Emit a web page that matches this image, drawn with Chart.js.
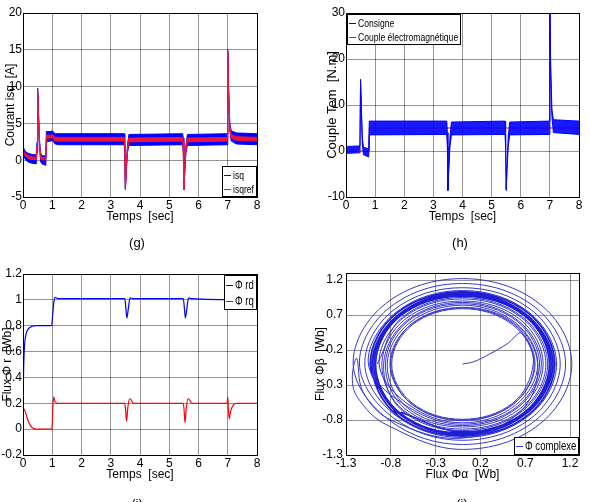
<!DOCTYPE html>
<html>
<head>
<meta charset="utf-8">
<title>Commande vectorielle - résultats de simulation</title>
<script src="https://cdn.jsdelivr.net/npm/chart.js@4.4.1/dist/chart.umd.min.js"></script>
<style>
  html, body { margin: 0; padding: 0; background: #fff; }
  body { position: relative; width: 590px; height: 502px; overflow: hidden; }
  .panel { position: absolute; width: 295px; height: 251px; }
  .caption { position: absolute; width: 40px; margin-left: -20px; text-align: center;
             font: 13px 'Liberation Sans', Arial, sans-serif; line-height: 15px; color: #000; }
</style>
</head>
<body>
<div class="panel" style="left:0;top:0"><canvas id="chart-g"></canvas></div>
<div class="panel" style="left:295px;top:0"><canvas id="chart-h"></canvas></div>
<div class="panel" style="left:0;top:251px"><canvas id="chart-i"></canvas></div>
<div class="panel" style="left:295px;top:251px"><canvas id="chart-j"></canvas></div>
<div class="caption" style="left:137px;top:235px">(g)</div>
<div class="caption" style="left:460px;top:235px">(h)</div>
<div class="caption" style="left:137px;top:496px">(i)</div>
<div class="caption" style="left:462px;top:496px">(j)</div>
<script>
const FONT = "'Liberation Sans', Arial, sans-serif";
const BLUE = '#0000ff';
const RED = '#ff0000';

// tick labels
const timeTicks = [0, 1, 2, 3, 4, 5, 6, 7, 8];
const isqTicks = [-5, 0, 5, 10, 15, 20];
const coupleTicks = [-10, 0, 10, 20, 30];
const fluxTicks = [-0.2, 0, 0.2, 0.4, 0.6, 0.8, 1, 1.2];
const complexTicks = [-1.3, -0.8, -0.3, 0.2, 0.7, 1.2];

// (g) courant isq : enveloppe du bruit (haut / bas)
const timeG = [0, 0.05, 0.1, 0.2, 0.3, 0.45, 0.48, 0.5, 0.53, 0.56, 0.6, 0.65, 0.78, 0.8, 0.95, 1.0, 1.1, 1.2,
               3.46, 3.48, 3.5, 3.53, 3.57, 3.62, 5.46, 5.48, 5.5, 5.53, 5.57, 5.62, 6.98, 7.0, 7.03, 7.07, 7.12, 7.3, 8];
const isqHigh = [1.9, 1.4, 1.1, 0.9, 0.8, 0.7, 2.5, 9.8, 6.5, 3.0, 1.0, 0.6, 0.6, 3.9, 3.9, 4.0, 3.6, 3.6,
                 3.6, 3.0, -3.8, -1.0, 2.0, 3.5, 3.6, 3.0, -3.8, -1.0, 2.0, 3.5, 3.6, 15.0, 9.5, 5.0, 4.0, 3.7, 3.6];
const isqLow = [0.9, 0.3, 0.0, -0.3, -0.4, -0.5, 1.0, 9.4, 5.8, 2.2, -0.2, -0.5, -0.7, 2.5, 2.6, 2.7, 2.2, 2.1,
                2.1, 1.0, -4.0, -1.6, 1.0, 2.0, 2.1, 1.0, -4.0, -1.6, 1.0, 2.0, 2.1, 14.6, 8.8, 4.0, 2.6, 2.2, 2.1];
const isqrefHigh = [1.5, 1.0, 0.8, 0.6, 0.45, 0.4, 2.0, 9.6, 6.2, 2.7, 0.6, 0.35, 0.3, 3.4, 3.4, 3.5, 3.1, 3.1,
                    3.1, 2.5, -3.8, -1.2, 1.8, 3.0, 3.1, 2.5, -3.8, -1.2, 1.8, 3.0, 3.1, 15.0, 9.2, 4.7, 3.5, 3.2, 3.1];
const isqrefLow = [1.2, 0.7, 0.45, 0.2, 0.1, 0.05, 1.5, 9.3, 6.0, 2.5, 0.3, 0.05, 0.0, 3.0, 3.0, 3.1, 2.6, 2.6,
                   2.6, 1.8, -4.0, -1.5, 1.3, 2.5, 2.6, 1.8, -4.0, -1.5, 1.3, 2.5, 2.6, 14.6, 9.0, 4.3, 3.0, 2.7, 2.6];

// (h) couple
const timeH = [0, 0.05, 0.45, 0.48, 0.5, 0.53, 0.56, 0.6, 0.78, 0.8, 3.46, 3.48, 3.5, 3.53, 3.57, 3.62,
               5.46, 5.48, 5.5, 5.53, 5.57, 5.62, 6.98, 7.0, 7.03, 7.07, 7.12, 8];
const consigneHigh = [0.7, 1.0, 1.1, 2.5, 15.6, 9.0, 3.0, 0.8, 0.5, 6.5, 6.5, 4.0, -8.2, -3.0, 3.0, 6.3,
                      6.5, 4.0, -8.2, -3.0, 3.0, 6.3, 6.5, 31, 18, 9, 6.8, 6.5];
const consigneLow = [-0.2, -0.5, -0.4, 0.5, 15.0, 8.2, 1.5, -0.8, -1.3, 3.5, 3.6, 1.0, -8.6, -4.0, 1.0, 3.5,
                     3.6, 1.0, -8.6, -4.0, 1.0, 3.5, 3.6, 30, 16, 7.5, 4.0, 3.6];
const timeCouple = [0, 0.8, 0.8, 8];
const coupleEm = [0, 0, 5, 5];

// (i) flux rotorique
const timeRd = [0, 0.02, 0.05, 0.1, 0.15, 0.2, 0.3, 0.45, 0.98, 1.02, 1.06, 1.1, 1.2,
                3.48, 3.52, 3.55, 3.6, 3.66, 3.75, 5.48, 5.52, 5.55, 5.6, 5.66, 5.75, 8];
const fluxRd = [0.15, 0.45, 0.64, 0.73, 0.765, 0.78, 0.795, 0.8, 0.8, 0.9, 0.99, 1.02, 1.01,
                1.01, 0.93, 0.86, 0.93, 1.015, 1.01, 1.01, 0.93, 0.86, 0.93, 1.015, 1.01, 1.0];
const timeRq = [0, 0.05, 0.1, 0.15, 0.2, 0.3, 0.45, 0.99, 1.02, 1.05, 1.1, 1.2,
                3.48, 3.51, 3.54, 3.58, 3.64, 3.68, 3.78, 5.48, 5.51, 5.54, 5.58, 5.64, 5.68, 5.78,
                6.98, 7.0, 7.02, 7.05, 7.1, 7.2, 7.3, 8];
const fluxRq = [0.16, 0.15, 0.12, 0.08, 0.05, 0.015, 0, 0, 0.17, 0.25, 0.21, 0.2,
                0.2, 0.14, 0.06, 0.16, 0.235, 0.23, 0.2, 0.2, 0.14, 0.05, 0.16, 0.235, 0.23, 0.2,
                0.2, 0.25, 0.16, 0.08, 0.14, 0.19, 0.2, 0.2];

// (j) flux complexe [alpha, beta]
const startPath = [[0, 0], [0.12, 0.03], [0.3, 0.14], [0.5, 0.29], [0.66, 0.44]];
const innerLoops = [
  [0.79, 0], [0.56, -0.56], [0, -0.79], [-0.56, -0.56], [-0.79, 0], [-0.56, 0.56], [0, 0.79], [0.56, 0.56],
  [0.8, 0], [0.57, -0.57], [0, -0.8], [-0.57, -0.57], [-0.8, 0], [-0.57, 0.57], [0, 0.8], [0.57, 0.57],
  [0.81, 0], [0.57, -0.57], [0, -0.81], [-0.57, -0.57], [-0.81, 0], [-0.57, 0.57], [0, 0.81], [0.58, 0.58]
];
const cuspPath = [[0.84, 0], [0.66, -0.66], [0, -1.06], [-0.8, -0.8], [-1.11, -0.4], [-1.18, 0.08],
                  [-1.23, -0.2], [-1.17, -0.48]];
const outerLoops = [
  [-0.86, -0.86], [0, -1.22], [0.86, -0.86], [1.22, 0], [0.86, 0.86], [0, 1.22], [-0.86, 0.86], [-1.22, 0],
  [-0.81, -0.81], [0, -1.15], [0.81, -0.81], [1.15, 0], [0.81, 0.81], [0, 1.15], [-0.81, 0.81], [-1.15, 0],
  [-0.77, -0.77], [0, -1.09], [0.77, -0.77], [1.09, 0], [0.77, 0.77], [0, 1.09], [-0.77, 0.77], [-1.09, 0],
  [-0.74, -0.74], [0, -1.05], [0.74, -0.74], [1.05, 0], [0.74, 0.74], [0, 1.05], [-0.74, 0.74], [-1.05, 0]
];
const bandLoops = [
  [-0.61, -0.61], [0, -0.86], [0.61, -0.61], [0.86, 0], [0.61, 0.61], [0, 0.86], [-0.61, 0.61], [-0.86, 0],
  [-0.64, -0.64], [0, -0.9], [0.64, -0.64], [0.9, 0], [0.64, 0.64], [0, 0.9], [-0.64, 0.64], [-0.9, 0],
  [-0.66, -0.66], [0, -0.93], [0.66, -0.66], [0.93, 0], [0.66, 0.66], [0, 0.93], [-0.66, 0.66], [-0.93, 0],
  [-0.59, -0.59], [0, -0.84], [0.59, -0.59], [0.84, 0], [0.59, 0.59], [0, 0.84], [-0.59, 0.59], [-0.84, 0],
  [-0.62, -0.62], [0, -0.88], [0.62, -0.62], [0.88, 0], [0.62, 0.62], [0, 0.88], [-0.62, 0.62], [-0.88, 0],
  [-0.67, -0.67], [0, -0.95], [0.67, -0.67], [0.95, 0], [0.67, 0.67], [0, 0.95], [-0.67, 0.67], [-0.95, 0]
];
const denseBand = [
  [-0.69, -0.69], [0, -0.97], [0.69, -0.69], [0.97, 0], [0.69, 0.69], [0, 0.97], [-0.69, 0.69], [-0.97, 0],
  [-0.7, -0.7], [0, -0.99], [0.7, -0.7], [0.99, 0], [0.7, 0.7], [0, 0.99], [-0.7, 0.7], [-0.99, 0],
  [-0.71, -0.71], [0, -1.01], [0.71, -0.71], [1.01, 0], [0.71, 0.71], [0, 1.01], [-0.71, 0.71], [-1.01, 0],
  [-0.73, -0.73], [0, -1.03], [0.73, -0.73], [1.03, 0], [0.73, 0.73], [0, 1.03], [-0.73, 0.73], [-1.03, 0],
  [-0.73, -0.73]
];

Chart.defaults.font.family = FONT;
Chart.defaults.font.size = 12;
Chart.defaults.color = '#000';

const pts = (xs, ys) => xs.map((x, i) => ({ x, y: ys[i] }));
const pairs = list => list.map(([x, y]) => ({ x, y }));

// cadre noir autour de la zone de tracé (style matlab)
const framePlugin = {
  id: 'frame',
  afterDatasetsDraw(chart) {
    const { ctx, chartArea: a } = chart;
    ctx.save();
    ctx.strokeStyle = '#000';
    ctx.lineWidth = 1;
    ctx.strokeRect(a.left + 0.5, a.top + 0.5, a.right - a.left, a.bottom - a.top);
    ctx.restore();
  }
};

// légende encadrée dans un coin de la zone de tracé (texte un peu resserré comme la figure)
const boxLegendPlugin = {
  id: 'boxLegend',
  afterDraw(chart, args, opts) {
    if (!opts.corner) return;
    const { ctx, chartArea: a } = chart;
    const items = chart.data.datasets.filter(d => d.legend);
    const sq = opts.squeeze || 1;
    ctx.save();
    ctx.font = opts.font;
    const textW = Math.max(...items.map(d => ctx.measureText(d.label).width)) * sq;
    const w = Math.round(2 + opts.sample + 2 + textW + 3);
    const h = items.length * opts.rowHeight + 3;
    const x = opts.corner.includes('l') ? a.left + 1 : a.right - w;
    const y = opts.corner.includes('t') ? a.top + 1 : a.bottom - h;
    ctx.fillStyle = '#fff';
    ctx.fillRect(x, y, w, h);
    ctx.strokeStyle = '#000';
    ctx.lineWidth = 1;
    ctx.strokeRect(x + 0.5, y + 0.5, w - 1, h - 1);
    items.forEach((d, i) => {
      const cy = Math.round(y + 1.5 + opts.rowHeight * (i + 0.5)) + 0.5;
      ctx.strokeStyle = d.borderColor;
      ctx.beginPath();
      ctx.moveTo(x + 2, cy);
      ctx.lineTo(x + 2 + opts.sample, cy);
      ctx.stroke();
      ctx.save();
      ctx.translate(x + 4 + opts.sample, cy);
      ctx.scale(sq, 1);
      ctx.fillStyle = '#000';
      ctx.textBaseline = 'middle';
      ctx.fillText(d.label, 0, 0);
      ctx.restore();
    });
    ctx.restore();
  }
};

Chart.register(framePlugin, boxLegendPlugin);

function axis(tickValues, size, title, o = {}) {
  return {
    type: 'linear',
    min: o.min ?? tickValues[0],
    max: o.max ?? tickValues[tickValues.length - 1],
    afterBuildTicks: s => { s.ticks = tickValues.map(v => ({ value: v })); },
    afterFit: s => { if (s.isHorizontal()) s.height = size; else s.width = size; },
    grid: { color: 'rgba(0,0,0,0.42)', drawTicks: false },
    border: { display: false },
    ticks: { padding: o.tickPad ?? 1, autoSkip: false, maxRotation: 0, callback: v => String(v) },
    title: {
      display: true,
      text: title,
      padding: o.titlePad ?? { top: 0, bottom: 0 },
      font: o.titleFont ?? { family: FONT, size: 12 }
    }
  };
}

function options(padding, scales, legend) {
  return {
    responsive: true,
    maintainAspectRatio: false,
    animation: false,
    events: [],
    layout: { padding },
    elements: { point: { radius: 0 }, line: { borderWidth: 1 } },
    plugins: { legend: { display: false }, tooltip: { enabled: false }, boxLegend: legend },
    scales
  };
}

// (g)
new Chart(document.getElementById('chart-g'), {
  type: 'line',
  data: {
    datasets: [
      { label: 'isq', data: pts(timeG, isqHigh), borderColor: BLUE, backgroundColor: BLUE, fill: '+1', order: 2, legend: true },
      { label: 'isq bas', data: pts(timeG, isqLow), borderColor: BLUE, order: 2 },
      { label: 'isqref', data: pts(timeG, isqrefHigh), borderColor: '#f0143c', backgroundColor: '#f0143c', fill: '+1', order: 1, legend: true },
      { label: 'isqref bas', data: pts(timeG, isqrefLow), borderColor: '#f0143c', order: 1 }
    ]
  },
  options: options({ left: 0, top: 13, right: 38, bottom: 27 }, {
    x: axis(timeTicks, 27, 'Temps  [sec]'),
    y: axis(isqTicks, 23, 'Courant isq  [A]', { titlePad: { top: 3, bottom: 0 } })
  }, { corner: 'br', font: '11px ' + FONT, rowHeight: 14, sample: 7, squeeze: 0.78 })
});

// (h)
new Chart(document.getElementById('chart-h'), {
  type: 'line',
  data: {
    datasets: [
      { label: 'Consigne', data: pts(timeH, consigneHigh), borderColor: BLUE, backgroundColor: 'rgba(0,0,255,0.9)', fill: '+1', order: 1, legend: true },
      { label: 'Consigne bas', data: pts(timeH, consigneLow), borderColor: BLUE, order: 1 },
      { label: 'Couple électromagnétique', data: pts(timeCouple, coupleEm), borderColor: RED, order: 2, legend: true }
    ]
  },
  options: options({ left: 28, top: 13, right: 11, bottom: 27 }, {
    x: axis(timeTicks, 27, 'Temps  [sec]'),
    y: axis(coupleTicks, 23, 'Couple Tem  [N.m]', { titlePad: { top: 2, bottom: 0 }, titleFont: { family: FONT, size: 13 } })
  }, { corner: 'tl', font: '11px ' + FONT, rowHeight: 14, sample: 7, squeeze: 0.78 })
});

// (i)
new Chart(document.getElementById('chart-i'), {
  type: 'line',
  data: {
    datasets: [
      { label: 'Φ rd', data: pts(timeRd, fluxRd), borderColor: BLUE, borderWidth: 1.2, cubicInterpolationMode: 'monotone', legend: true },
      { label: 'Φ rq', data: pts(timeRq, fluxRq), borderColor: RED, borderWidth: 1.2, cubicInterpolationMode: 'monotone', legend: true }
    ]
  },
  options: options({ left: 0, top: 23, right: 38, bottom: 20 }, {
    x: axis(timeTicks, 27, 'Temps  [sec]'),
    y: axis(fluxTicks, 23, 'Flux Φ r  [Wb]')
  }, { corner: 'tr', font: '12px ' + FONT, rowHeight: 16, sample: 7, squeeze: 0.8 })
});

// (j)
const spiralPath = [...startPath, ...innerLoops, ...cuspPath, ...outerLoops, ...bandLoops];
new Chart(document.getElementById('chart-j'), {
  type: 'line',
  data: {
    datasets: [
      { label: 'Φ complexe', data: pairs(spiralPath), borderColor: '#3535d2', borderWidth: 1, tension: 0.37, legend: true },
      { label: 'Φ complexe (régime établi)', data: pairs(denseBand), borderColor: '#1e1ed6', borderWidth: 1.7, tension: 0.37 }
    ]
  },
  options: options({ left: 18, top: 22, right: 11, bottom: 20 }, {
    x: axis(complexTicks, 27, 'Flux Φα  [Wb]', { min: -1.3, max: 1.3 }),
    y: axis(complexTicks, 33, 'Flux Φβ  [Wb]', { min: -1.3, max: 1.3, tickPad: 3, titlePad: { top: 0, bottom: 0 } })
  }, { corner: 'br', font: '12px ' + FONT, rowHeight: 15, sample: 7, squeeze: 0.8 })
});
</script>
</body>
</html>
